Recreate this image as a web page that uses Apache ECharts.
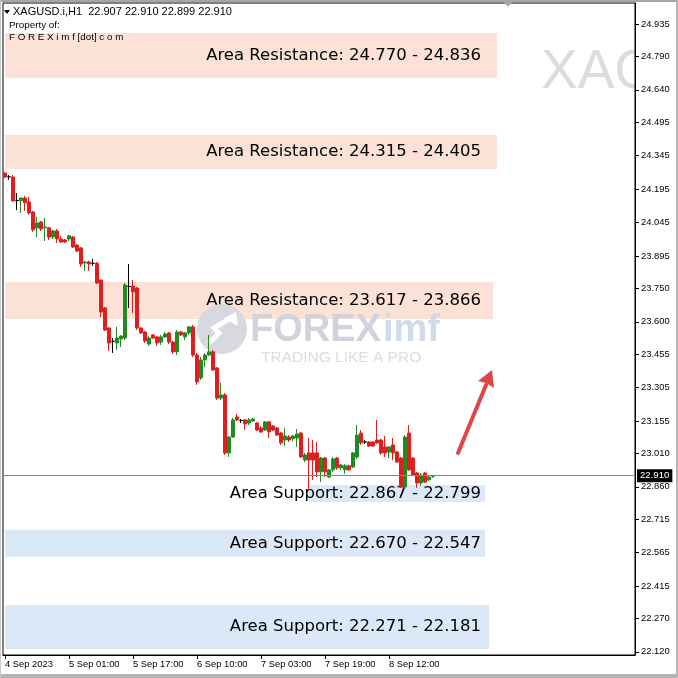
<!DOCTYPE html>
<html><head><meta charset="utf-8">
<script src="https://cdn.jsdelivr.net/npm/echarts@6/dist/echarts.min.js"></script>
<style>html,body{margin:0;padding:0;background:#fff;}#c{width:678px;height:678px;}</style>
</head><body><div id="c"></div>
<script>
// ---- data ----
const opens = [24.267,24.250,24.249,24.144,24.142,24.155,24.137,24.092,24.021,24.047,
 24.021,24.021,23.980,24.007,23.971,23.967,23.971,23.980,23.944,23.931,
 23.864,23.868,23.862,23.862,23.787,23.662,23.572,23.512,23.505,23.523,
 23.527,23.758,23.760,23.751,23.572,23.554,23.500,23.541,23.532,23.509,
 23.532,23.550,23.509,23.465,23.554,23.532,23.550,23.577,23.451,23.348,
 23.429,23.451,23.465,23.393,23.258,23.272,23.012,23.083,23.173,23.157,
 23.160,23.146,23.155,23.146,23.124,23.115,23.151,23.133,23.124,23.101,
 23.070,23.083,23.075,23.079,23.101,22.980,23.012,23.012,23.012,22.927,
 22.989,22.904,22.936,22.989,22.945,22.936,22.954,22.949,22.994,23.101,
 23.061,23.061,23.061,23.070,23.070,23.039,23.016,23.048,23.016,22.989,
 22.859,23.101,22.989,22.922,22.877,22.922,22.891,22.907];
const highs = [24.272,24.258,24.258,24.177,24.155,24.164,24.159,24.097,24.070,24.052,
 24.065,24.025,24.012,24.016,23.985,23.971,23.989,23.985,23.949,23.935,
 23.873,23.873,23.882,23.868,23.790,23.666,23.577,23.527,23.577,23.540,
 23.774,23.859,23.787,23.756,23.577,23.559,23.536,23.545,23.536,23.541,
 23.554,23.554,23.514,23.563,23.559,23.554,23.581,23.586,23.460,23.442,
 23.460,23.541,23.474,23.397,23.326,23.280,23.088,23.169,23.187,23.164,
 23.164,23.169,23.169,23.151,23.133,23.155,23.155,23.137,23.128,23.106,
 23.124,23.092,23.092,23.119,23.106,23.012,23.079,23.070,23.061,22.994,
 22.994,22.940,22.994,22.994,22.962,22.962,22.958,23.016,23.137,23.115,
 23.070,23.065,23.065,23.160,23.075,23.088,23.043,23.079,23.021,22.994,
 23.092,23.137,22.994,22.927,22.922,22.927,22.913,22.910];
const lows = [24.245,24.236,24.137,24.101,24.088,24.097,24.079,24.003,23.980,24.007,
 23.962,23.967,23.971,23.953,23.953,23.953,23.962,23.931,23.913,23.846,
 23.828,23.828,23.850,23.769,23.621,23.559,23.469,23.460,23.474,23.487,
 23.518,23.662,23.639,23.563,23.545,23.505,23.492,23.523,23.492,23.496,
 23.527,23.500,23.456,23.451,23.536,23.518,23.541,23.442,23.317,23.339,
 23.397,23.446,23.380,23.249,23.249,23.003,22.994,23.079,23.155,23.146,
 23.115,23.137,23.151,23.110,23.101,23.110,23.079,23.110,23.088,23.048,
 23.043,23.061,23.065,23.039,22.989,22.971,22.846,22.891,22.904,22.882,
 22.904,22.900,22.927,22.936,22.936,22.918,22.931,22.945,22.985,23.048,
 23.052,23.039,23.039,23.052,23.003,22.994,22.989,22.980,22.967,22.855,
 22.855,22.931,22.909,22.855,22.864,22.877,22.886,22.899];
const closes = [24.249,24.250,24.142,24.144,24.155,24.133,24.088,24.012,24.043,24.016,
 24.025,23.980,24.007,23.971,23.958,23.958,23.985,23.935,23.917,23.859,
 23.868,23.859,23.862,23.774,23.644,23.563,23.505,23.512,23.527,23.536,
 23.765,23.758,23.734,23.572,23.550,23.514,23.527,23.527,23.505,23.532,
 23.545,23.509,23.465,23.554,23.541,23.550,23.577,23.451,23.330,23.429,
 23.451,23.465,23.384,23.258,23.272,23.012,23.083,23.160,23.160,23.157,
 23.142,23.160,23.164,23.115,23.106,23.151,23.106,23.115,23.092,23.057,
 23.088,23.070,23.088,23.097,22.994,23.003,22.980,22.980,22.927,22.989,
 22.927,22.936,22.985,22.945,22.958,22.954,22.936,23.012,23.092,23.057,
 23.061,23.043,23.043,23.057,23.012,23.012,23.039,23.012,22.971,22.859,
 23.083,22.936,22.913,22.877,22.913,22.882,22.904,22.910];

const slotCount = 158;                       // bar slots on the time axis (incl. right shift)
const xTickIndex = [0,16,32,48,64,80,96];
const xTickLabels = ['4 Sep 2023','5 Sep 01:00','5 Sep 17:00','6 Sep 10:00','7 Sep 03:00','7 Sep 19:00','8 Sep 12:00'];
const yTickLabels = ['22.120','22.270','22.415','22.565','22.715','22.860','23.010','23.155','23.305','23.455',
 '23.600','23.750','23.895','24.045','24.195','24.345','24.495','24.640','24.790','24.935'];
const yMin = 22.106, yMax = 25.029;

const zoneTexts = ['Area Resistance: 24.770 - 24.836','Area Resistance: 24.315 - 24.405','Area Resistance: 23.617 - 23.866',
 'Area Support: 22.867 - 22.799','Area Support: 22.670 - 22.547','Area Support: 22.271 - 22.181'];
const zoneTop    = [24.895,24.437,23.778,22.868,22.667,22.330];
const zoneBottom = [24.693,24.285,23.612,22.792,22.546,22.133];
const zoneStart  = [0,0,0,76,0,0];
const zoneEnd    = [123,123,122,120,120,121];
const zoneKind   = ['res','res','res','sup','sup','sup'];
const textAnchor = 119;
const lastPrice = 22.910;
const headerText = 'XAGUSD.i,H1  22.907 22.910 22.899 22.910';

// ---- build ----
const categories = Array.from({length: slotCount}, (_, i) => String(i));
const ohlc = opens.map((o, i) => [o, closes[i], lows[i], highs[i]]);
const zoneColor = {res: '#fbe1d6', sup: '#dbe8f8'};
const areaData = zoneTop.map((t, i) => [
  {xAxis: zoneStart[i], yAxis: t, itemStyle: {color: zoneColor[zoneKind[i]]}},
  {xAxis: zoneEnd[i], yAxis: zoneBottom[i]}
]);
const textData = zoneTop.map((t, i) => ({value: [textAnchor, (t + zoneBottom[i]) / 2], name: zoneTexts[i]}));
const yTickValues = yTickLabels.map(Number);

const axisFont = {fontFamily: 'Liberation Sans', fontSize: 9.4, color: '#000'};

const chart = echarts.init(document.getElementById('c'), null, {renderer: 'canvas'});
chart.setOption({
  backgroundColor: '#fff',
  animation: false,
  grid: {left: 3, right: 43, top: 3, bottom: 23, show: true, borderColor: '#000', borderWidth: 1, backgroundColor: 'transparent'},
  xAxis: {
    type: 'category', data: categories, boundaryGap: true,
    axisLine: {show: true, lineStyle: {color: '#000', width: 1}},
    axisTick: {show: true, alignWithLabel: true, length: 4, interval: (i) => xTickIndex.includes(i), lineStyle: {color: '#000'}},
    axisLabel: Object.assign({
      interval: (i) => xTickIndex.includes(i),
      formatter: (v, i) => { const k = xTickIndex.indexOf(i); return k >= 0 ? xTickLabels[k] : ''; },
      align: 'left', margin: 5
    }, axisFont),
    splitLine: {show: false}
  },
  yAxis: {
    type: 'value', position: 'right', min: yMin, max: yMax, scale: true,
    axisLine: {show: true, lineStyle: {color: '#000', width: 1}},
    axisTick: {show: true, length: 4, customValues: yTickValues, lineStyle: {color: '#000'}},
    axisLabel: Object.assign({customValues: yTickValues, margin: 6,
      formatter: (v) => { const k = yTickValues.findIndex(t => Math.abs(t - v) < 1e-6); return k >= 0 ? yTickLabels[k] : ''; }}, axisFont),
    splitLine: {show: false}
  },
  series: [
    {
      type: 'line', data: [], z: 1, silent: true,
      markArea: {silent: true, itemStyle: {opacity: 1}, data: areaData}
    },
    {
      type: 'scatter', z: 1, silent: true, symbolSize: 0, data: textData, clip: false,
      label: {show: true, position: 'left', distance: 0, formatter: (p) => p.name,
        fontFamily: 'DejaVu Sans', fontSize: 16.5, color: '#000', opacity: 1}
    },
    {
      type: 'candlestick', z: 3, data: ohlc, barWidth: 3, silent: true,
      itemStyle: {color: '#238a23', color0: '#dc1f1f', borderColor: '#238a23', borderColor0: '#dc1f1f', borderColorDoji: '#000', borderWidth: 1},
      markLine: {
        silent: true, symbol: ['none', 'none'], animation: false,
        lineStyle: {color: '#7d8894', width: 1, type: 'solid'},
        label: {show: true, position: 'end', distance: 2, formatter: lastPrice.toFixed(3),
          color: '#fff', backgroundColor: '#000', padding: [2, 3, 1, 3], fontFamily: 'Liberation Sans', fontSize: 9.6},
        data: [{yAxis: lastPrice}]
      }
    }
  ],
  graphic: [
    // window frame
    {type: 'rect', shape: {x: 0, y: 0, width: 678, height: 2}, style: {fill: '#a6a6a6'}, z: 10, silent: true},
    {type: 'polygon', shape: {points: [[502, 0], [514, 0], [508, 7]]}, style: {fill: '#a6a6a6'}, z: 10, silent: true},
    {type: 'rect', shape: {x: 0, y: 674, width: 678, height: 4}, style: {fill: '#b4b4b4'}, z: 10, silent: true},
    {type: 'rect', shape: {x: 676, y: 0, width: 2, height: 678}, style: {fill: '#b4b4b4'}, z: 10, silent: true},
    {type: 'rect', shape: {x: 0, y: 0, width: 1, height: 678}, style: {fill: '#c8c8c8'}, z: 10, silent: true},
    // symbol watermark (clipped by a cover to the plot edge)
    {type: 'text', x: 541, y: 73, z: -10, silent: true,
      style: {text: 'XAGUSD', font: '55px "Liberation Sans"', fill: '#dcdcdc', textVerticalAlign: 'middle'}},
    {type: 'rect', shape: {x: 636, y: 30, width: 40, height: 90}, style: {fill: '#fff'}, z: -5, silent: true},
    // header
    {type: 'polygon', shape: {points: [[4, 10], [10, 10], [7, 14]]}, style: {fill: '#000'}, z: 10, silent: true},
    {type: 'text', x: 13, y: 6, z: 10, silent: true, style: {text: headerText, font: '11px "Liberation Sans"', fill: '#000'}},
    {type: 'text', x: 9, y: 20, z: 10, silent: true, style: {text: 'Property of:', font: '9.8px "Liberation Sans"', fill: '#000'}},
    {type: 'text', x: 9, y: 32, z: 10, silent: true, style: {text: 'F O R E X i m f [dot] c o m', font: '9.8px "Liberation Sans"', fill: '#000'}},
    // logo watermark
    {type: 'group', z: 2, silent: true, children: [
      {type: 'circle', shape: {cx: 222, cy: 329, r: 25}, style: {fill: '#d8d8e0'}, z: 2},
      {type: 'polyline', shape: {points: [[209, 343], [219, 333], [214, 328], [234, 316]]}, style: {stroke: '#fff', lineWidth: 5, fill: null}, z: 2},
      {type: 'polygon', shape: {points: [[236, 312], [238, 326], [224, 318]]}, style: {fill: '#fff'}, z: 2},
      {type: 'text', x: 250, y: 331, style: {text: 'FOREX', font: 'bold 38px "Liberation Sans"', fill: '#d2d2dc', textVerticalAlign: 'middle'}, z: 2},
      {type: 'text', x: 383, y: 331, style: {text: 'imf', font: 'bold 38px "Liberation Sans"', fill: '#cfdbe9', textVerticalAlign: 'middle'}, z: 2},
      {type: 'text', x: 261, y: 358, style: {text: 'TRADING LIKE A PRO', font: '15.5px "Liberation Sans"', fill: '#dcdcdc', textVerticalAlign: 'middle'}, z: 2}
    ]},
    // red arrow
    {type: 'line', shape: {x1: 458, y1: 453, x2: 486, y2: 385}, style: {stroke: '#e04646', lineWidth: 4, lineCap: 'round'}, z: 10, silent: true},
    {type: 'polygon', shape: {points: [[492, 370], [494, 388], [486, 383], [478, 381]]}, style: {fill: '#e04646'}, z: 10, silent: true}
  ]
});
</script></body></html>
